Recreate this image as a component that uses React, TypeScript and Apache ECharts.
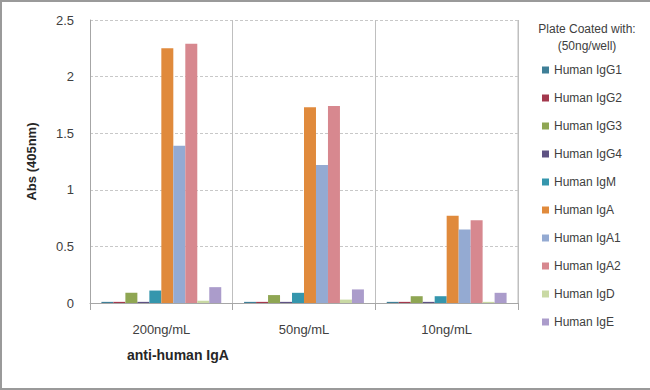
import React, { useEffect, useRef } from "react";
import * as echarts from "echarts";

const categories = ["200ng/mL", "50ng/mL", "10ng/mL"];
const seriesNames = [
  "Human IgG1",
  "Human IgG2",
  "Human IgG3",
  "Human IgG4",
  "Human IgM",
  "Human IgA",
  "Human IgA1",
  "Human IgA2",
  "Human IgD",
  "Human IgE",
];
const seriesColors = [
  "#3f7f97",
  "#a3384d",
  "#8fa653",
  "#5e5283",
  "#3596ad",
  "#e08a3c",
  "#94aad2",
  "#d7888f",
  "#c9d9a4",
  "#ab9ccb",
];
const igG1 = [0.01, 0.01, 0.01];
const igG2 = [0.01, 0.01, 0.01];
const igG3 = [0.09, 0.07, 0.06];
const igG4 = [0.01, 0.01, 0.01];
const igM = [0.11, 0.09, 0.06];
const igA = [2.25, 1.73, 0.77];
const igA1 = [1.39, 1.22, 0.65];
const igA2 = [2.29, 1.74, 0.73];
const igD = [0.02, 0.03, 0.01];
const igE = [0.14, 0.12, 0.09];
const seriesValues = [igG1, igG2, igG3, igG4, igM, igA, igA1, igA2, igD, igE];

const FONT = "'Liberation Sans', Arial, sans-serif";

export default function App() {
  const ref = useRef<HTMLDivElement>(null);
  useEffect(() => {
    if (!ref.current) return;
    const chart = echarts.init(ref.current, undefined, { renderer: "svg" });
    chart.setOption({
      animation: false,
      backgroundColor: "#ffffff",
      textStyle: { fontFamily: FONT },
      grid: { left: 90, right: 132, top: 20, bottom: 87 },
      legend: {
        orient: "vertical",
        left: 537,
        top: 59,
        itemWidth: 7,
        itemHeight: 7,
        itemGap: 16,
        icon: "rect",
        textStyle: { fontSize: 12, color: "#404040", fontFamily: FONT },
        data: seriesNames,
      },
      xAxis: {
        type: "category",
        data: categories,
        axisLine: { lineStyle: { color: "#a6a6a6" } },
        axisTick: { show: true, length: 7, lineStyle: { color: "#a6a6a6" } },
        axisLabel: { fontSize: 13, color: "#404040", margin: 20, fontFamily: FONT },
        splitLine: { show: true, lineStyle: { color: "#bfbfbf", width: 1 } },
      },
      yAxis: {
        type: "value",
        min: 0,
        max: 2.5,
        interval: 0.5,
        axisLine: { show: true, lineStyle: { color: "#a6a6a6" } },
        axisTick: { show: false },
        axisLabel: { fontSize: 13, color: "#404040", margin: 16, fontFamily: FONT },
        splitLine: { lineStyle: { color: "#c8c8c8", type: [3, 2] } },
        name: "Abs (405nm)",
        nameLocation: "middle",
        nameGap: 52,
        nameTextStyle: { fontSize: 13, fontWeight: "bold", color: "#262626", fontFamily: FONT },
      },
      graphic: [
        {
          type: "line",
          shape: { x1: 518, y1: 20, x2: 518, y2: 303 },
          style: { stroke: "#bfbfbf", lineWidth: 1 },
        },
        {
          type: "text",
          left: 127,
          top: 348,
          style: { text: "anti-human IgA", fontSize: 14, fontWeight: "bold", fill: "#262626", fontFamily: FONT },
        },
        {
          type: "text",
          x: 587,
          y: 20,
          style: {
            text: "Plate Coated with:\n(50ng/well)",
            fontSize: 12,
            lineHeight: 17,
            fill: "#404040",
            align: "center",
            fontFamily: FONT,
          },
        },
      ],
      series: seriesNames.map((name, i) => ({
        name,
        type: "bar",
        data: seriesValues[i],
        barGap: "0%",
        barCategoryGap: "16%",
        itemStyle: { color: seriesColors[i] },
      })),
    });
    return () => chart.dispose();
  }, []);
  return (
    <div
      style={{
        position: "absolute",
        left: 0,
        top: 0,
        width: 650,
        height: 390,
        boxSizing: "border-box",
        borderTop: "2px solid #9a9a9a",
        borderLeft: "2px solid #9a9a9a",
        borderBottom: "2px solid #9a9a9a",
        overflow: "hidden",
      }}
    >
      <div ref={ref} style={{ position: "absolute", left: -2, top: -2, width: 650, height: 390 }} />
    </div>
  );
}
